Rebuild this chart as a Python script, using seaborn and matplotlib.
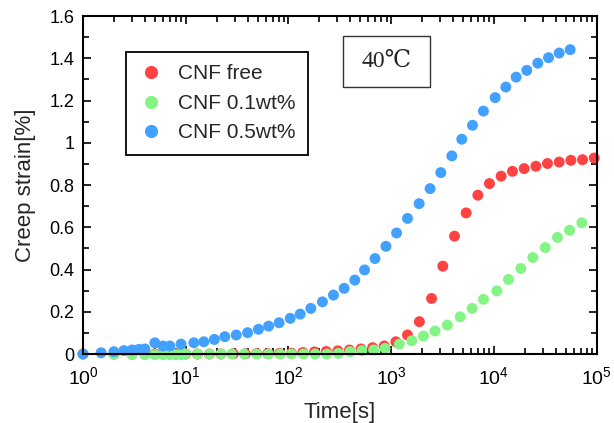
import pandas as pd
import matplotlib
matplotlib.use('Agg')
import matplotlib.pyplot as plt
import seaborn as sns
from matplotlib.patches import Rectangle
from matplotlib.ticker import FuncFormatter, MultipleLocator, LogLocator, NullFormatter

# ============================================================
# DATA
# ============================================================
free_time = [1, 2, 3, 4, 5, 6, 7, 8, 9,
             10, 13, 17, 22, 29, 38, 49, 63, 82, 107, 138, 179, 233, 302,
             392, 508, 659, 855, 1110, 1440, 1880, 2470, 3180, 4130, 5360,
             6970, 9040, 11750, 15140, 19680, 25590, 33190, 43150, 56100,
             72780, 94620]
free_strain = [0, 0, 0, 0, 0, 0, 0, 0, 0,
               0, 0, 0, 0, 0.001, 0.001, 0.002, 0.002, 0.003, 0.004, 0.007,
               0.01, 0.012, 0.015, 0.019, 0.024, 0.03, 0.038, 0.058, 0.09,
               0.153, 0.263, 0.416, 0.558, 0.668, 0.752, 0.807, 0.842, 0.865,
               0.878, 0.889, 0.902, 0.909, 0.917, 0.92, 0.928]

low_time = [1, 2, 3, 4, 5, 6, 7, 8, 9,
            10, 13, 17, 22, 28, 37, 49, 64, 83, 107, 140, 182, 236, 306,
            398, 518, 675, 871, 1200, 1585, 2060, 2670, 3520, 4690, 6140,
            7910, 10670, 13840, 18280, 23930, 31550, 41500, 54330, 71780]
low_strain = [0, -0.003, -0.003, -0.003, -0.003, -0.003, -0.003, -0.003,
              -0.003, 0, 0, 0, 0, 0, 0, 0, 0, 0, 0, 0, 0, 0, 0.003,
              0.011, 0.016, 0.019, 0.027, 0.047, 0.063, 0.085, 0.109, 0.137,
              0.176, 0.216, 0.259, 0.299, 0.353, 0.405, 0.457, 0.504, 0.552,
              0.586, 0.621]

high_time = [1, 1.5, 2, 2.5, 3, 3.5, 4, 5, 6, 7, 9,
             12, 15, 19, 24, 31, 40, 51, 64, 81, 104, 130, 165, 214, 274,
             348, 442, 550, 695, 889, 1127, 1440, 1870, 2390, 3040, 3890,
             4860, 6180, 7900, 10280, 13060, 16440, 20890, 26730, 33960,
             43150, 55210]
high_strain = [0, 0.006, 0.011, 0.016, 0.019, 0.022, 0.024, 0.053, 0.038,
               0.038, 0.047, 0.053, 0.058, 0.069, 0.082, 0.09, 0.101, 0.117,
               0.132, 0.148, 0.169, 0.189, 0.216, 0.247, 0.279, 0.311, 0.35,
               0.398, 0.452, 0.51, 0.573, 0.642, 0.712, 0.783, 0.859, 0.938,
               1.017, 1.083, 1.15, 1.214, 1.264, 1.311, 1.343, 1.377, 1.403,
               1.425, 1.441]

labels = ['CNF free', 'CNF 0.1wt%', 'CNF 0.5wt%']
colors = ['#ff4242', '#84f584', '#42a0ff']

df = pd.concat([
    pd.DataFrame({'time': free_time, 'strain': free_strain, 'sample': labels[0]}),
    pd.DataFrame({'time': low_time, 'strain': low_strain, 'sample': labels[1]}),
    pd.DataFrame({'time': high_time, 'strain': high_strain, 'sample': labels[2]}),
], ignore_index=True)

# ============================================================
# STYLE
# ============================================================
sns.set_style('ticks')
plt.rcParams['font.family'] = ['Liberation Sans', 'DejaVu Sans']
plt.rcParams['mathtext.fontset'] = 'custom'
plt.rcParams['mathtext.rm'] = 'Liberation Sans'
plt.rcParams['mathtext.it'] = 'Liberation Sans'

fig = plt.figure(figsize=(6.14, 4.23), dpi=100)
ax = fig.add_axes([0.1352, 0.1631, 0.8366, 0.7989])

sns.scatterplot(data=df, x='time', y='strain', hue='sample',
                hue_order=labels, palette=dict(zip(labels, colors)),
                s=62, edgecolor='none', linewidth=0, alpha=1,
                clip_on=False, ax=ax)

ax.set_xscale('log')
ax.set_xlim(1, 1e5)
ax.set_ylim(0, 1.6)

ax.xaxis.set_major_locator(LogLocator(base=10, numticks=10))
ax.xaxis.set_minor_locator(LogLocator(base=10, subs=range(2, 10), numticks=20))
ax.xaxis.set_minor_formatter(NullFormatter())
ax.yaxis.set_major_locator(MultipleLocator(0.2))
ax.yaxis.set_minor_locator(MultipleLocator(0.1))
ax.yaxis.set_major_formatter(FuncFormatter(lambda v, p: f'{v:g}'))

ax.tick_params(which='both', direction='in', top=True, right=True,
               color='black', width=1.2, labelcolor='black')
ax.tick_params(which='major', length=6)
ax.tick_params(which='minor', length=4)
ax.tick_params(axis='y', labelsize=13, pad=6)
ax.tick_params(axis='x', labelsize=14, pad=9)
for sp in ax.spines.values():
    sp.set_linewidth(1.5)
    sp.set_color('black')
    sp.set_zorder(5)

ax.set_xlabel('Time[s]', fontsize=16, labelpad=10)
ax.set_ylabel('Creep strain[%]', fontsize=16, labelpad=10)

# legend box
handles, lbls = ax.get_legend_handles_labels()
leg = ax.legend(handles, lbls, loc='upper left', bbox_to_anchor=(0.083, 0.894),
                borderaxespad=0, fontsize=15, frameon=True, fancybox=False,
                edgecolor='black', framealpha=1, labelspacing=0.5,
                handletextpad=0.7, borderpad=0.6, markerscale=1.2,
                handlelength=1.2)
leg.get_frame().set_linewidth(1.3)

# temperature box
ax.add_patch(Rectangle((0.5055, 0.791), 0.17, 0.151, transform=ax.transAxes,
                       fill=True, facecolor='white', edgecolor='#333333',
                       linewidth=1.0, zorder=6))
ax.text(0.5905, 0.8665, '40℃', transform=ax.transAxes, ha='center',
        va='center', fontsize=17, zorder=7,
        family=['Liberation Serif', 'DejaVu Serif', 'Noto Sans CJK JP'])

plt.savefig('out.png', dpi=100)
plt.close()
